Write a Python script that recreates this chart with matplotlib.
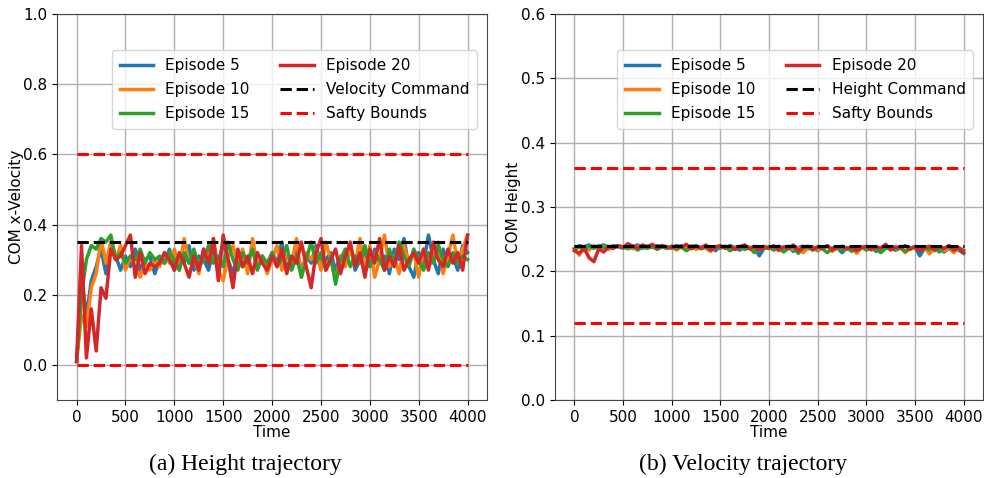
import numpy as np
import matplotlib
matplotlib.use("Agg")
import matplotlib.pyplot as plt

# time axis (sampled every 50 steps)
time = np.arange(0, 4001, 50)

# (a) COM x-velocity per episode
vel_ep5 = [0.01, 0.25, 0.14, 0.24, 0.28, 0.33, 0.26, 0.35, 0.31, 0.27, 0.31, 0.28, 0.33, 0.27, 0.30, 0.31, 0.26, 0.30, 0.29, 0.33,
           0.27, 0.31, 0.29, 0.34, 0.27, 0.31, 0.30, 0.27, 0.33, 0.29, 0.35, 0.30, 0.26, 0.32, 0.28, 0.30, 0.33, 0.28, 0.31, 0.27,
           0.32, 0.29, 0.35, 0.28, 0.30, 0.33, 0.27, 0.31, 0.29, 0.34, 0.28, 0.30, 0.32, 0.27, 0.31, 0.30, 0.34, 0.27, 0.30, 0.32,
           0.28, 0.33, 0.29, 0.31, 0.26, 0.33, 0.30, 0.36, 0.28, 0.25, 0.32, 0.29, 0.37, 0.30, 0.26, 0.33, 0.29, 0.31, 0.27, 0.34,
           0.32]
vel_ep10 = [0.01, 0.14, 0.11, 0.22, 0.26, 0.36, 0.29, 0.35, 0.30, 0.34, 0.27, 0.31, 0.28, 0.25, 0.29, 0.27, 0.30, 0.28, 0.32, 0.29,
            0.33, 0.27, 0.36, 0.29, 0.31, 0.26, 0.33, 0.30, 0.36, 0.27, 0.24, 0.31, 0.34, 0.29, 0.33, 0.26, 0.36, 0.28, 0.31, 0.26,
            0.30, 0.34, 0.27, 0.31, 0.29, 0.36, 0.25, 0.32, 0.30, 0.33, 0.27, 0.35, 0.30, 0.24, 0.31, 0.28, 0.33, 0.29, 0.36, 0.27,
            0.34, 0.25, 0.30, 0.37, 0.28, 0.31, 0.26, 0.34, 0.29, 0.32, 0.25, 0.33, 0.28, 0.30, 0.35, 0.26, 0.31, 0.37, 0.29, 0.33,
            0.37]
vel_ep15 = [0.01, 0.20, 0.30, 0.34, 0.33, 0.36, 0.35, 0.37, 0.30, 0.32, 0.29, 0.31, 0.30, 0.33, 0.29, 0.32, 0.30, 0.31, 0.29, 0.32,
            0.30, 0.27, 0.32, 0.29, 0.33, 0.28, 0.30, 0.34, 0.29, 0.31, 0.28, 0.35, 0.30, 0.27, 0.32, 0.29, 0.33, 0.27, 0.31, 0.29,
            0.32, 0.28, 0.30, 0.34, 0.27, 0.31, 0.25, 0.30, 0.35, 0.29, 0.32, 0.27, 0.31, 0.23, 0.30, 0.33, 0.28, 0.31, 0.29, 0.34,
            0.28, 0.32, 0.30, 0.27, 0.33, 0.29, 0.35, 0.31, 0.28, 0.33, 0.30, 0.27, 0.32, 0.29, 0.34, 0.30, 0.28, 0.32, 0.29, 0.31,
            0.30]
vel_ep20 = [0.01, 0.34, 0.02, 0.16, 0.04, 0.22, 0.19, 0.33, 0.30, 0.31, 0.34, 0.37, 0.25, 0.32, 0.26, 0.29, 0.28, 0.29, 0.32, 0.30,
            0.27, 0.32, 0.29, 0.25, 0.31, 0.27, 0.33, 0.29, 0.36, 0.24, 0.37, 0.30, 0.22, 0.33, 0.28, 0.31, 0.26, 0.32, 0.29, 0.27,
            0.31, 0.28, 0.33, 0.26, 0.31, 0.29, 0.35, 0.28, 0.22, 0.32, 0.36, 0.27, 0.30, 0.33, 0.26, 0.31, 0.35, 0.28, 0.32, 0.25,
            0.33, 0.29, 0.36, 0.27, 0.31, 0.28, 0.34, 0.27, 0.30, 0.32, 0.29, 0.33, 0.27, 0.35, 0.30, 0.28, 0.33, 0.29, 0.32, 0.27,
            0.37]
vel_command = 0.35
vel_bounds = [0.0, 0.6]

# (b) COM height per episode
hgt_ep5 = [0.235, 0.240, 0.238, 0.241, 0.236, 0.239, 0.241, 0.237, 0.240, 0.238, 0.236, 0.240, 0.238, 0.241, 0.236, 0.239, 0.237, 0.240, 0.238, 0.236,
           0.239, 0.237, 0.240, 0.234, 0.238, 0.240, 0.236, 0.239, 0.237, 0.232, 0.239, 0.236, 0.240, 0.237, 0.233, 0.239, 0.236, 0.238, 0.224, 0.236,
           0.238, 0.233, 0.239, 0.236, 0.238, 0.231, 0.237, 0.239, 0.235, 0.238, 0.232, 0.237, 0.239, 0.234, 0.237, 0.229, 0.236, 0.238, 0.233, 0.237,
           0.235, 0.238, 0.231, 0.237, 0.236, 0.238, 0.233, 0.237, 0.231, 0.236, 0.238, 0.224, 0.236, 0.238, 0.232, 0.237, 0.230, 0.236, 0.238, 0.233,
           0.228]
hgt_ep10 = [0.236, 0.225, 0.238, 0.233, 0.240, 0.236, 0.239, 0.234, 0.238, 0.240, 0.237, 0.239, 0.235, 0.238, 0.240, 0.236, 0.239, 0.237, 0.240, 0.236,
            0.238, 0.233, 0.239, 0.236, 0.240, 0.234, 0.238, 0.236, 0.231, 0.238, 0.236, 0.239, 0.233, 0.237, 0.239, 0.235, 0.238, 0.230, 0.237, 0.239,
            0.235, 0.238, 0.232, 0.237, 0.239, 0.234, 0.237, 0.229, 0.236, 0.238, 0.233, 0.237, 0.239, 0.231, 0.236, 0.238, 0.234, 0.237, 0.228, 0.236,
            0.238, 0.233, 0.237, 0.230, 0.236, 0.238, 0.234, 0.237, 0.229, 0.236, 0.238, 0.233, 0.237, 0.227, 0.236, 0.238, 0.232, 0.236, 0.229, 0.237,
            0.233]
hgt_ep15 = [0.234, 0.238, 0.232, 0.239, 0.236, 0.240, 0.237, 0.239, 0.236, 0.240, 0.238, 0.235, 0.239, 0.233, 0.238, 0.236, 0.239, 0.234, 0.238, 0.236,
            0.239, 0.235, 0.238, 0.232, 0.237, 0.239, 0.235, 0.238, 0.233, 0.238, 0.236, 0.239, 0.232, 0.237, 0.238, 0.234, 0.237, 0.229, 0.237, 0.235,
            0.238, 0.234, 0.237, 0.230, 0.236, 0.238, 0.228, 0.236, 0.238, 0.233, 0.237, 0.235, 0.229, 0.236, 0.238, 0.234, 0.237, 0.231, 0.236, 0.238,
            0.233, 0.237, 0.235, 0.229, 0.236, 0.238, 0.233, 0.237, 0.231, 0.236, 0.238, 0.232, 0.236, 0.234, 0.237, 0.230, 0.236, 0.238, 0.233, 0.236,
            0.232]
hgt_ep20 = [0.232, 0.228, 0.236, 0.221, 0.215, 0.235, 0.230, 0.238, 0.236, 0.240, 0.237, 0.243, 0.239, 0.236, 0.241, 0.238, 0.242, 0.236, 0.240, 0.238,
            0.236, 0.240, 0.237, 0.242, 0.235, 0.239, 0.236, 0.241, 0.233, 0.238, 0.240, 0.236, 0.239, 0.234, 0.238, 0.241, 0.235, 0.239, 0.233, 0.238,
            0.236, 0.240, 0.233, 0.238, 0.236, 0.241, 0.232, 0.237, 0.239, 0.234, 0.238, 0.236, 0.240, 0.233, 0.237, 0.239, 0.235, 0.238, 0.232, 0.237,
            0.239, 0.234, 0.238, 0.236, 0.242, 0.233, 0.238, 0.236, 0.240, 0.234, 0.238, 0.232, 0.237, 0.239, 0.234, 0.238, 0.236, 0.240, 0.233, 0.237,
            0.229]
hgt_command = 0.24
hgt_bounds = [0.12, 0.36]

episodes = ["Episode 5", "Episode 10", "Episode 15", "Episode 20"]
colors = ["#1f77b4", "#ff7f0e", "#2ca02c", "#d62728"]

plt.rcParams["font.family"] = "DejaVu Sans"
plt.rcParams["font.size"] = 11

fig = plt.figure(figsize=(9.84, 4.78), dpi=100)
ax1 = fig.add_axes([0.058, 0.163, 0.437, 0.808])
ax2 = fig.add_axes([0.564, 0.163, 0.435, 0.808])


def draw_panel(ax, series, command, bounds, cmd_label, ylabel, ylab_x):
    for data, lab, c in zip(series, episodes, colors):
        ax.plot(time, data, color=c, lw=2.5, label=lab)
    ax.plot([time[0], time[-1]], [command, command], "k--", lw=2.2, label=cmd_label)
    ax.plot([time[0], time[-1]], [bounds[0], bounds[0]], "--", color="red", lw=2.2, label="Safty Bounds")
    ax.plot([time[0], time[-1]], [bounds[1], bounds[1]], "--", color="red", lw=2.2)
    ax.grid(True, color="#b0b0b0", lw=1)
    ax.set_axisbelow(True)
    ax.set_xticks(np.arange(0, 4001, 500))
    ax.set_xlabel("Time", labelpad=0)
    ax.set_ylabel(ylabel)
    ax.yaxis.set_label_coords(ylab_x, 0.5)
    for s in ax.spines.values():
        s.set_color("#444444")
    ax.legend(ncol=2, loc="upper right", bbox_to_anchor=(0.995, 0.925),
              fontsize=11, columnspacing=2.0, handlelength=2.2,
              borderpad=0.5, labelspacing=0.6)


draw_panel(ax1, [vel_ep5, vel_ep10, vel_ep15, vel_ep20], vel_command, vel_bounds,
           "Velocity Command", "COM x-Velocity", -0.077)
ax1.set_ylim(-0.1, 1.0)
ax1.set_yticks(np.arange(0, 1.01, 0.2))

draw_panel(ax2, [hgt_ep5, hgt_ep10, hgt_ep15, hgt_ep20], hgt_command, hgt_bounds,
           "Height Command", "COM Height", -0.079)
ax2.set_ylim(0, 0.6)
ax2.set_yticks(np.arange(0, 0.61, 0.1))

fig.text(0.249, 0.017, "(a) Height trajectory", family="Liberation Serif", fontsize=17, ha="center", va="baseline")
fig.text(0.755, 0.017, "(b) Velocity trajectory", family="Liberation Serif", fontsize=17, ha="center", va="baseline")

fig.savefig("out.png", dpi=100)
